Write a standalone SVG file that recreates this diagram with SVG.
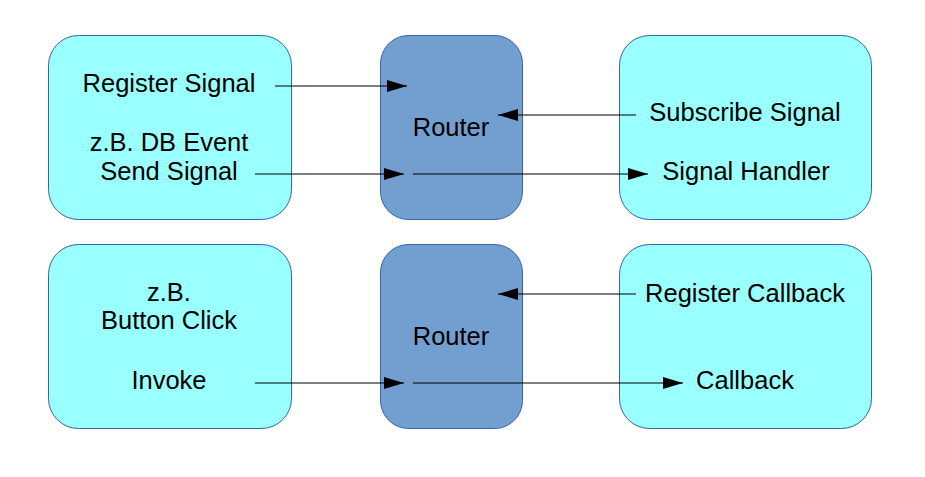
<svg xmlns="http://www.w3.org/2000/svg" width="925" height="477" viewBox="0 0 925 477">
<defs>
<style>
.box{fill:#99ffff;stroke:#3465a4;stroke-width:1}
.router{fill:#729fcf;stroke:#3465a4;stroke-width:1}
text{font-family:"Liberation Sans",Arial,sans-serif;font-size:25.5px;fill:#000;text-anchor:middle}
.conn line{stroke:#000;stroke-width:1.2;marker-end:url(#arr)}
</style>
<marker id="arr" markerUnits="userSpaceOnUse" markerWidth="21" markerHeight="13" refX="20" refY="6.5" orient="auto">
<path d="M0,0.5 L20,6.5 L0,12.5 z" fill="#000"/>
</marker>
</defs>
<rect width="925" height="477" fill="#fff"/>
<g id="source1">
<rect class="box" x="48.5" y="35.5" width="243" height="184" rx="30"/>
<text x="169" y="92">Register Signal</text>
<text x="169" y="151">z.B. DB Event</text>
<text x="169" y="180">Send Signal</text>
</g>
<g id="router1">
<rect class="router" x="380.5" y="35.5" width="142" height="184" rx="28"/>
<text x="451" y="136">Router</text>
</g>
<g id="target1">
<rect class="box" x="619.5" y="35.5" width="252" height="184" rx="30"/>
<text x="745" y="121">Subscribe Signal</text>
<text x="746" y="180">Signal Handler</text>
</g>
<g id="source2">
<rect class="box" x="48.5" y="244.5" width="243" height="184" rx="30"/>
<text x="169" y="301">z.B.</text>
<text x="169" y="329">Button Click</text>
<text x="169" y="389">Invoke</text>
</g>
<g id="router2">
<rect class="router" x="380.5" y="244.5" width="142" height="184" rx="28"/>
<text x="451" y="345">Router</text>
</g>
<g id="target2">
<rect class="box" x="619.5" y="244.5" width="252" height="184" rx="30"/>
<text x="745" y="302">Register Callback</text>
<text x="745" y="389">Callback</text>
</g>
<g id="connectors" class="conn">
<line x1="275" y1="86" x2="407" y2="86"/>
<line x1="636" y1="115" x2="498" y2="115"/>
<line x1="255" y1="174" x2="404" y2="174"/>
<line x1="413" y1="174" x2="648" y2="174"/>
<line x1="636" y1="294" x2="498" y2="294"/>
<line x1="255" y1="383" x2="404" y2="383"/>
<line x1="413" y1="383" x2="683" y2="383"/>
</g>
</svg>
